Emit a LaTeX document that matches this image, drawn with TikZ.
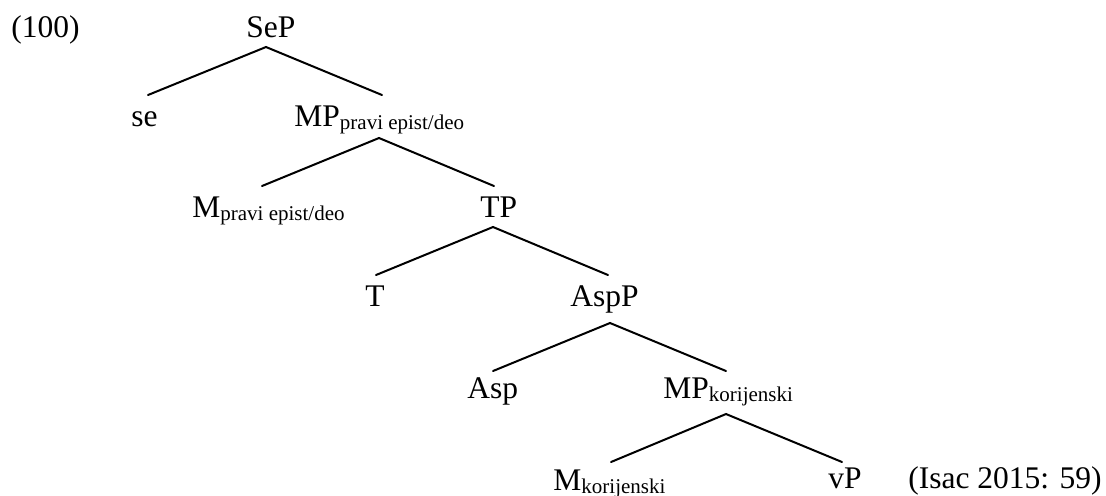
\documentclass[tikz,border=0pt]{standalone}
\usepackage{fontspec}
\setmainfont{Liberation Serif}
\newcommand\subtxt[1]{\raisebox{-1.5pt}{\fontsize{10.5}{12}\selectfont #1}}
\begin{document}
\begin{tikzpicture}[x=0.5pt,y=-0.5pt,
  lab/.style={anchor=base west, inner sep=0pt, font=\fontsize{15.75}{18}\selectfont},
  branch/.style={line width=1pt, line cap=round}]
\useasboundingbox (0,0) rectangle (1106,495);
% labels
\node[lab] (ex) at (11,37) {(100)};
\node[lab] (sep) at (246,37) {SeP};
\node[lab] (se) at (131,126) {se};
\node[lab] (mp1) at (294,126) {MP\subtxt{pravi epist/deo}};
\node[lab] (m1) at (192,217) {M\subtxt{pravi epist/deo}};
\node[lab] (tp) at (480,217) {TP};
\node[lab] (t) at (365,306) {T};
\node[lab] (aspp) at (570,306) {AspP};
\node[lab] (asp) at (467,398) {Asp};
\node[lab] (mp2) at (663,398) {MP\subtxt{korijenski}};
\node[lab] (m2) at (553,490) {M\subtxt{korijenski}};
\node[lab] (vp) at (828,488) {vP};
\node[lab] (src) at (908,488) {(Isac 2015: 59)};
% branch points
\coordinate (sepD) at (266,47);
\coordinate (seU) at (148,95);
\coordinate (mp1U) at (382,95);
\coordinate (mp1D) at (379,138);
\coordinate (m1U) at (262,186);
\coordinate (tpU) at (494,186);
\coordinate (tpD) at (493,227);
\coordinate (tU) at (376,275);
\coordinate (asppU) at (608,275);
\coordinate (asppD) at (610,323);
\coordinate (aspU) at (493,371);
\coordinate (mp2U) at (726,371);
\coordinate (mp2D) at (726,414);
\coordinate (m2U) at (611,462);
\coordinate (vpU) at (842,462);
% connectors
\draw[branch] (seU) -- (sepD) -- (mp1U);
\draw[branch] (m1U) -- (mp1D) -- (tpU);
\draw[branch] (tU) -- (tpD) -- (asppU);
\draw[branch] (aspU) -- (asppD) -- (mp2U);
\draw[branch] (m2U) -- (mp2D) -- (vpU);
\end{tikzpicture}
\end{document}
